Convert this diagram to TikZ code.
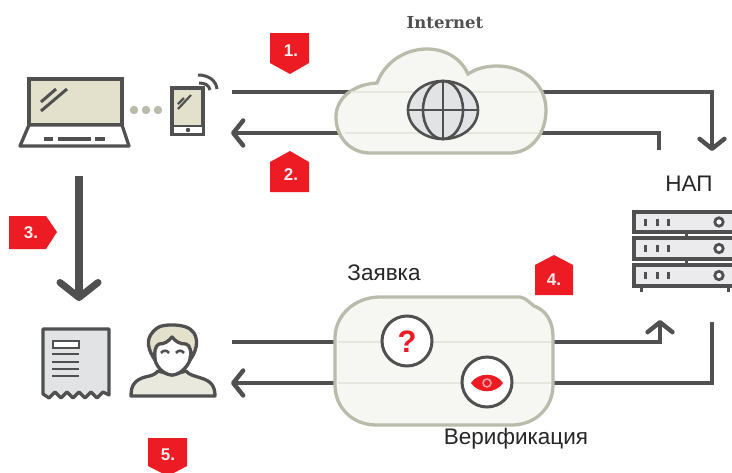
\documentclass[tikz,border=0pt]{standalone}
\usepackage{fontspec}
\setmainfont{Liberation Sans}
\newfontfamily\slabfont{DejaVu Serif}
\usetikzlibrary{arrows.meta}
\definecolor{ink}{HTML}{505050}
\definecolor{redb}{HTML}{ED1C24}
\definecolor{sage}{HTML}{B9BCAA}
\definecolor{cream}{HTML}{E3E1CC}
\definecolor{pale}{HTML}{F6F6F2}
\definecolor{gry}{HTML}{E2E3E5}
\definecolor{faint}{HTML}{E6E6DF}
\definecolor{body}{HTML}{EAE9DD}
\tikzset{
 x=1pt,y=-1pt,
 conn/.style={draw=ink,line width=4pt},
 icon/.style={draw=ink,line width=3.3pt,line join=miter},
 thin icon/.style={draw=ink,line width=2.6pt},
 chev/.style={-{Straight Barb[round,length=10pt,width=25pt,line width=4.4pt]}},
 badge/.style={fill=redb,draw=none},
 bnum/.style={text=white!92!redb,font=\bfseries\fontsize{17}{17}\selectfont,inner sep=0pt},
 lab/.style={text=black!85,font=\fontsize{22.5}{23}\selectfont,inner sep=0pt},
}
\begin{document}
\begin{tikzpicture}
\useasboundingbox (0,0) rectangle (732,472);
\clip (0,0) rectangle (732,472);
\fill[white] (0,0) rectangle (732,472);
% free connector ends
\coordinate (p1a) at (232,92); \coordinate (p1b) at (712,92); \coordinate (p1c) at (712,151);
\coordinate (p2a) at (659,150); \coordinate (p2b) at (659,133); \coordinate (p2c) at (231,133);
\coordinate (p3a) at (79,176); \coordinate (p3b) at (79,301);
\coordinate (p4a) at (232,342); \coordinate (p4b) at (660,342); \coordinate (p4c) at (660,320);
\coordinate (p5a) at (712,322); \coordinate (p5b) at (712,383); \coordinate (p5c) at (231,383);
% connectors
\draw[conn,chev] (p1a) -- (p1b) -- (p1c);
\draw[conn,chev] (p2a) -- (p2b) -- (p2c);
\draw[draw=ink,line width=8pt,-{Straight Barb[round,length=15pt,width=38pt,line width=7pt]}] (p3a) -- (p3b);
\draw[conn,chev] (p4a) -- (p4b) -- (p4c);
\draw[conn,chev] (p5a) -- (p5b) -- (p5c);
% cloud
\path[fill=pale,draw=sage,line width=3.3pt] (370,153)
 .. controls (350,153) and (336,137) .. (336,117)
 .. controls (336,97) and (355,84) .. (377,83)
 .. controls (385,62) and (405,49) .. (427,49)
 .. controls (447,49) and (462,60) .. (468,74)
 .. controls (477,68) and (487,66) .. (497,66)
 .. controls (525,66) and (546,85) .. (546,110)
 .. controls (546,135) and (530,153) .. (510,153) -- cycle;
\draw[faint,line width=2pt] (351,92) -- (538,92) (345,133) -- (538,133);
\node[font=\slabfont\bfseries\fontsize{16.5}{17}\selectfont,text=ink,inner sep=0pt] (inet) at (445,23) {Internet};
% globe
\fill[gry] (443,110) ellipse[x radius=35,y radius=29];
\draw[thin icon] (443,110) ellipse[x radius=35,y radius=29];
\draw[thin icon] (443,110) ellipse[x radius=20,y radius=29];
\draw[thin icon] (408,110) -- (478,110) (443,81) -- (443,139);
% request box
\path[fill=pale,draw=sage,line width=3.3pt] (380,297) -- (520,297)
 .. controls (526,298) and (530,303) .. (534,306)
 .. controls (546,310) and (553,322) .. (553,336) -- (553,385)
 .. controls (553,408) and (535,425) .. (512,425) -- (376,425)
 .. controls (353,425) and (335,408) .. (335,385) -- (335,338)
 .. controls (335,315) and (355,297) .. (380,297) -- cycle;
\draw[faint,line width=2pt] (338,342) -- (551,342) (338,383) -- (551,383);
% question circle
\draw[draw=ink,line width=3pt,fill=white] (407,341) circle[radius=25];
\node[text=redb,font=\bfseries\fontsize{31}{31}\selectfont,inner sep=0pt] (q) at (407,342) {?};
% eye circle
\draw[draw=ink,line width=3pt,fill=white] (487,382) circle[radius=25];
\fill[redb] (471,383) .. controls (478,372) and (496,372) .. (503,383)
 .. controls (496,394) and (478,394) .. (471,383) -- cycle;
\draw[draw=white!60!redb,line width=1.5pt] (487,383) circle[radius=4];
% texts
\node[lab] (req) at (384,273) {Заявка};
\node[lab] (ver) at (516,439) {Верификация};
\node[lab] (nap) at (689,184) {НАП};
% laptop
\draw[icon,fill=cream] (29,79) rectangle (122,125);
\draw[icon,fill=white,line join=round] (29,125) -- (20,146) -- (129,146) -- (122,125) -- cycle;
\draw[thin icon,line width=3pt] (41,102) -- (56,89) (41,111) -- (67,89);
\draw[thin icon,line width=3.4pt] (44,139) -- (53,139) (58,139) -- (91,139) (95,139) -- (105,139);
\foreach \x in {134,146,158} \fill[sage] (\x,110) circle[radius=4.2];
% phone
\draw[icon,fill=cream] (172,88) rectangle (203,134);
\fill[white] (173.5,127) rectangle (201.5,132.5);
\draw[draw=ink,line width=2.8pt] (172,126) -- (203,126);
\fill[ink] (188,130) circle[radius=2.2];
\draw[thin icon,line width=2.2pt] (178,104) -- (184,98) (178,109) -- (191,95);
\draw[draw=ink,line width=3pt] (199,83) .. controls (205,83) and (209,85) .. (210,90);
\draw[draw=ink,line width=3pt] (198,75) .. controls (208,75) and (216,80) .. (217,89);
% receipt
\draw[icon,fill=gry,line join=round] (43,329) -- (109,329) -- (109,395)
 -- (103,392) -- (97,398) -- (91,392) -- (85,398) -- (79,392) -- (73,398) -- (67,392) -- (61,398) -- (55,392) -- (49,398) -- (43,394) -- cycle;
\draw[draw=ink,line width=2.6pt,fill=white] (53,341) rectangle (79,348);
\draw[draw=ink,line width=2.6pt] (52,354) -- (79,354) (52,362) -- (79,362) (52,369) -- (79,369) (52,376) -- (79,376);
% person
\path[icon,fill=body,line join=round] (131,396) .. controls (131,385) and (135,380) .. (145,377)
 .. controls (150,376) and (155,375) .. (158,371) -- (172,375) -- (186,371)
 .. controls (189,375) and (195,376) .. (201,378)
 .. controls (211,381) and (215,386) .. (215,396) -- cycle;
\path[icon,fill=white] (154,345) -- (155,360) .. controls (157,368) and (165,375) .. (172,375)
 .. controls (179,375) and (187,368) .. (190,360) -- (192,345) -- (172,333) -- cycle;
\path[icon,fill=cream,line join=round] (155,360) .. controls (148,350) and (146,340) .. (152,333)
 .. controls (158,325) and (165,325) .. (172,325)
 .. controls (182,325) and (190,327) .. (194,333)
 .. controls (199,341) and (196,352) .. (190,360)
 .. controls (192,352) and (190,345) .. (186,344)
 .. controls (180,344) and (176,342) .. (172,337)
 .. controls (168,342) and (164,344) .. (159,344)
 .. controls (155,346) and (154,352) .. (155,360) -- cycle;
\draw[draw=ink,line width=2.6pt] (161,353) .. controls (163,350) and (167,350) .. (169,353);
\draw[draw=ink,line width=2.6pt] (176,353) .. controls (178,350) and (182,350) .. (184,353);
% servers
\foreach \ya/\yb in {212/232,238/259,265/286}{
 \draw[icon,fill=gry!70!white] (634,\ya) rectangle (745,\yb);
 \pgfmathsetmacro{\ym}{(\ya+\yb)/2}
 \draw[draw=ink,line width=3pt] (645,\ym-3.5) -- (645,\ym+3.5) (657,\ym-3.5) -- (657,\ym+3.5) (668,\ym-3.5) -- (668,\ym+3.5);
 \draw[draw=ink,line width=2.8pt,fill=white] (719,\ym) circle[radius=4.2];
}
\draw[draw=ink,line width=3pt] (686,232) -- (686,238) (686,259) -- (686,265) (641,286) -- (641,292) (728,286) -- (728,292);
% badges
\fill[badge] (270,33) -- (309,33) -- (309,63) -- (290,74) -- (270,63) -- cycle;
\node[bnum] (b1) at (291,51) {1.};
\fill[badge] (270,192) -- (309,192) -- (309,162) -- (290,151) -- (270,162) -- cycle;
\node[bnum] (b2) at (291,175) {2.};
\fill[badge] (9,216) -- (46,216) -- (57,232) -- (46,249) -- (9,249) -- cycle;
\node[bnum] (b3) at (31,233) {3.};
\fill[badge] (535,295) -- (573,295) -- (573,265) -- (554,255) -- (535,265) -- cycle;
\node[bnum] (b4) at (554,280) {4.};
\fill[badge] (148,438) -- (187,438) -- (187,466) -- (168,476) -- (148,466) -- cycle;
\node[bnum] (b5) at (168,455) {5.};
\end{tikzpicture}
\end{document}
